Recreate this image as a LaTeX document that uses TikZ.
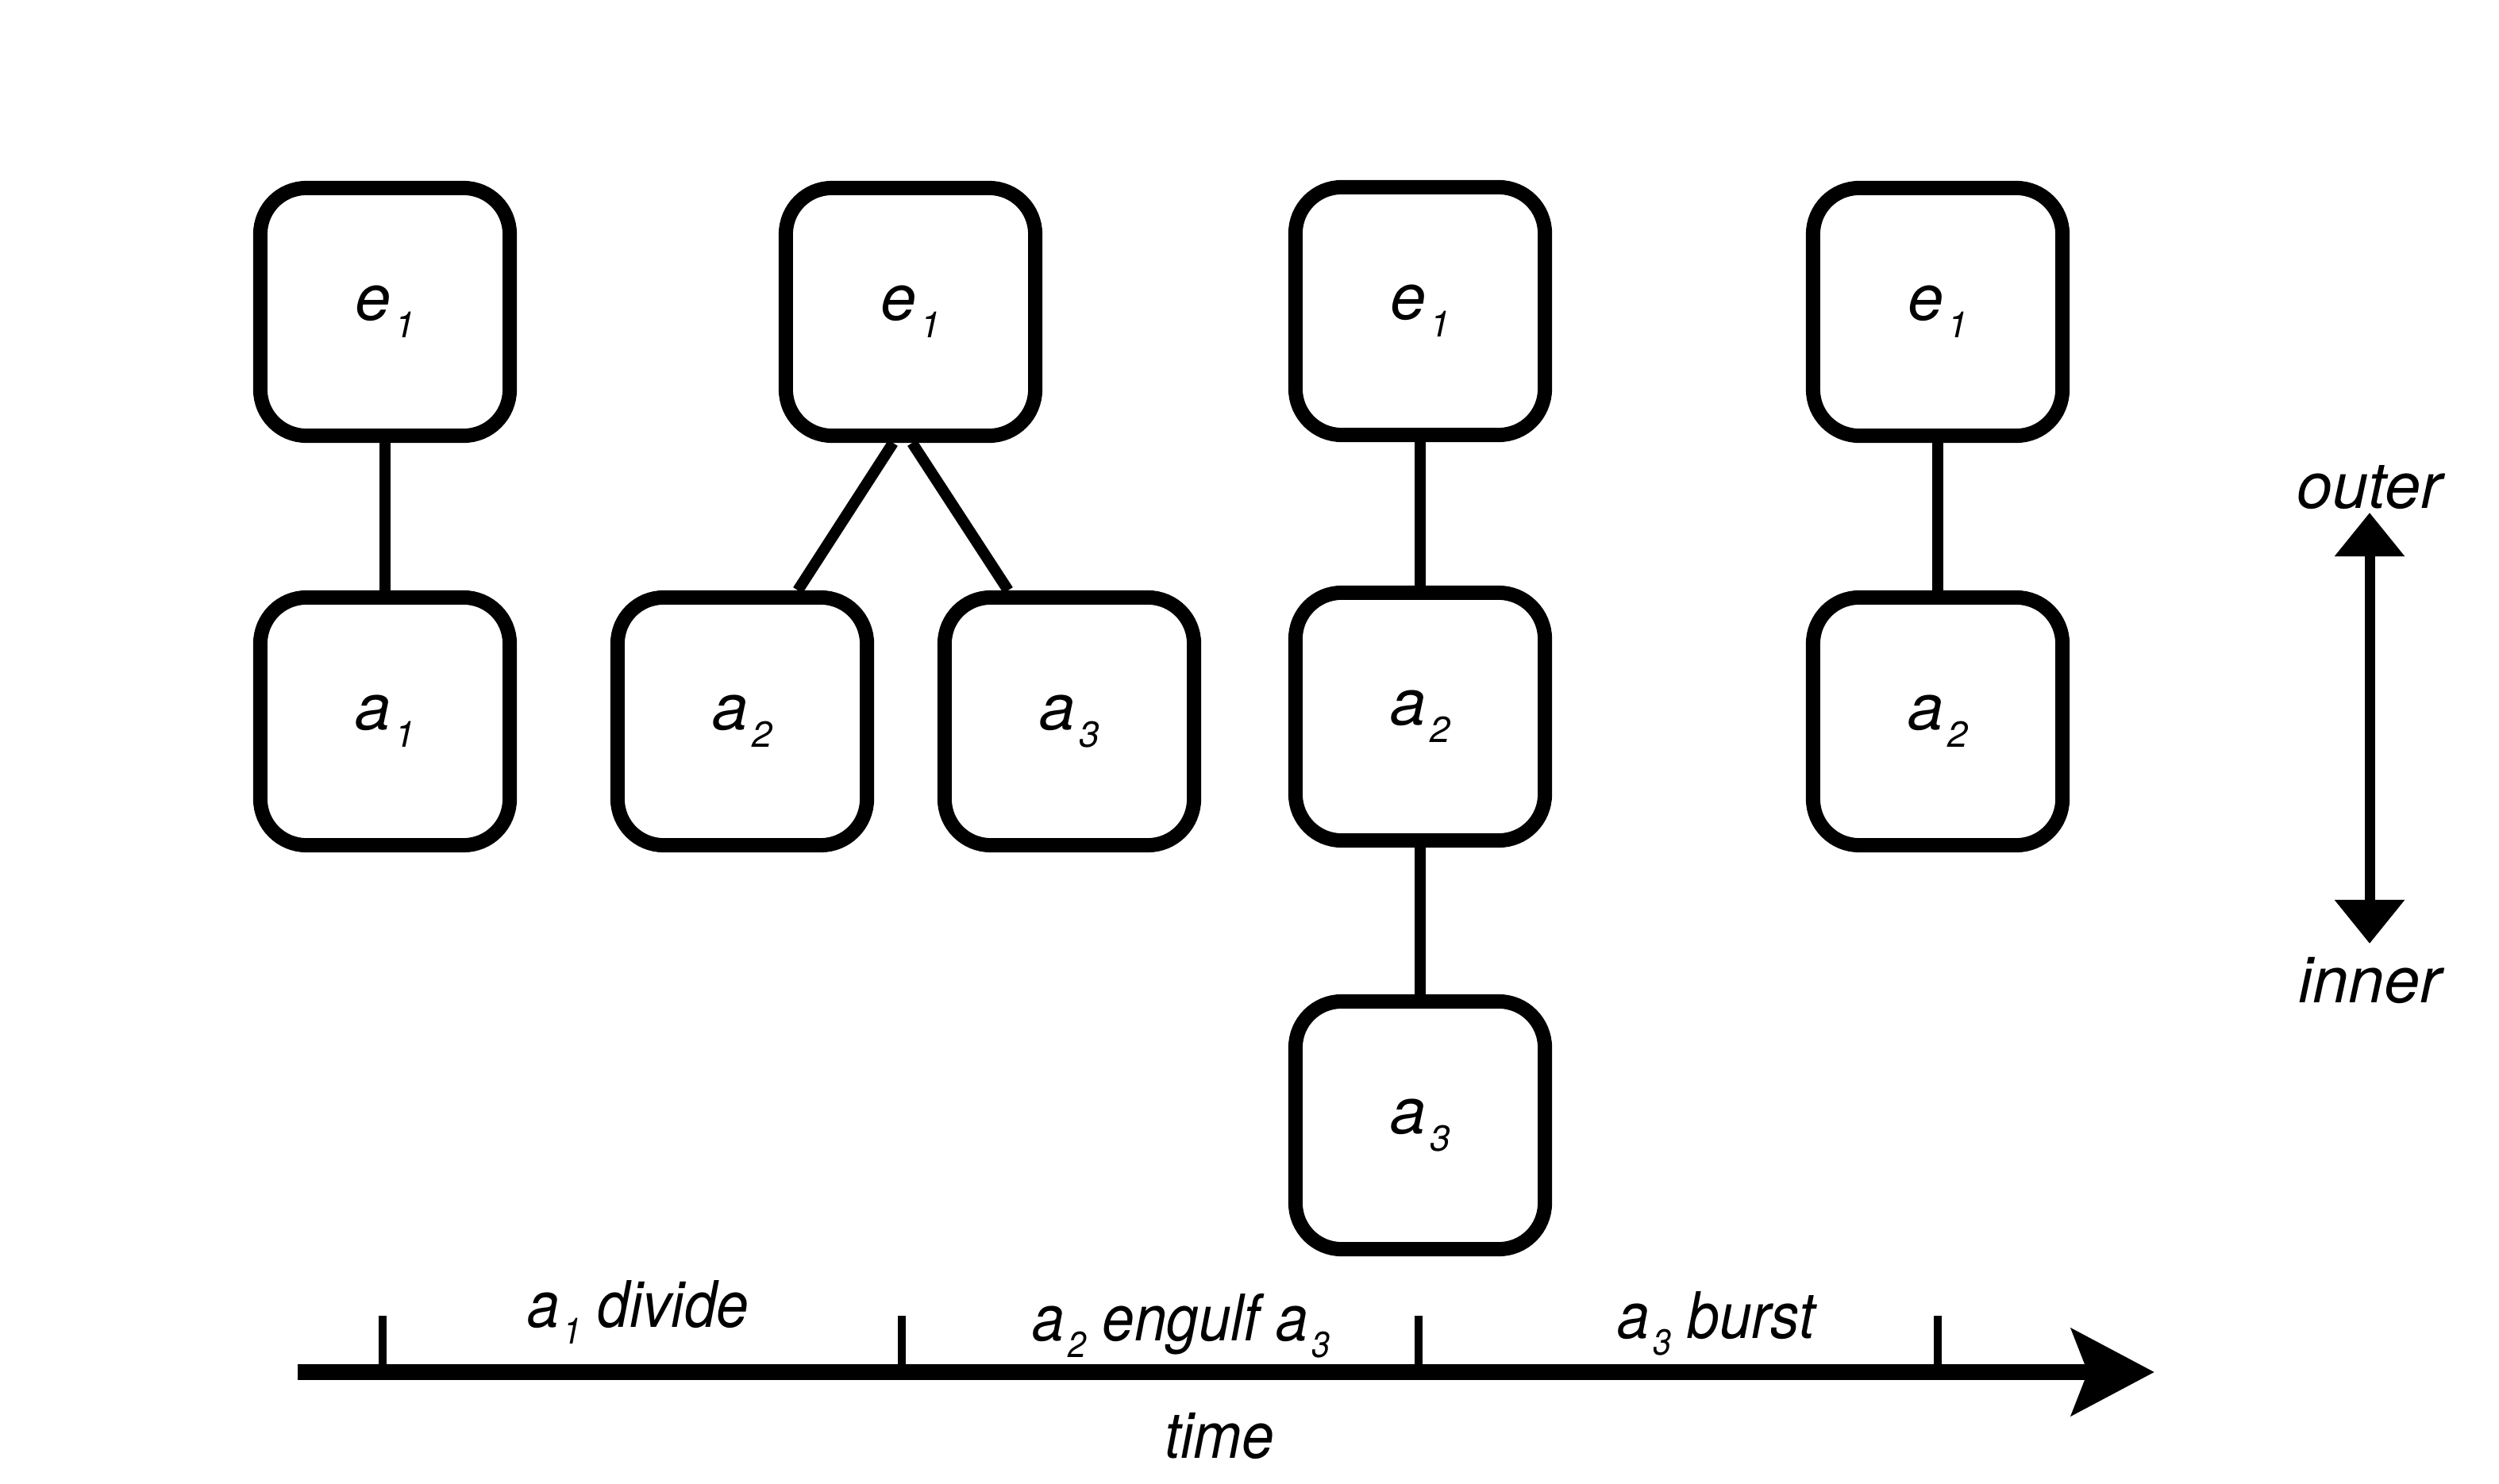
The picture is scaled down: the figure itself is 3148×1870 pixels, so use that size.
\documentclass[tikz,border=0pt]{standalone}
\usepackage{fontspec}
\setmainfont{TeX Gyre Heros}
\usetikzlibrary{arrows.meta}
\newcommand\lsub[1]{\kern0.06em\raisebox{-0.27em}{\fontsize{13}{13}\selectfont #1}}
\newcommand\cond[1]{\scalebox{0.9}[1]{#1}}
\begin{document}
\begin{tikzpicture}[x=0.01cm,y=-0.01cm,
  lbl/.style={font=\fontsize{23}{27}\selectfont\itshape, inner sep=0pt},
  box/.style={lbl, draw, line width=0.18cm, rounded corners=0.58cm,
    minimum width=3.14cm, minimum height=3.12cm},
  link/.style={line width=0.14cm},
  axis/.style={line width=0.2cm},
  tick/.style={line width=0.1cm}]
\useasboundingbox (0,0) rectangle (3148,1870);
% column 1
\node[box] (e1a) at (485,393) {e\lsub{1}};
\node[box] (a1a) at (485,909) {a\lsub{1}};
\draw[link] (e1a) -- (a1a);
% column 2
\node[box] (e1b) at (1147,393) {e\lsub{1}};
\node[box] (a2b) at (935,909) {a\lsub{2}};
\node[box] (a3b) at (1347,909) {a\lsub{3}};
\draw[link] ([xshift=-0.22cm]e1b.south) -- ([xshift=0.7cm]a2b.north);
\draw[link] ([xshift=0.02cm]e1b.south) -- ([xshift=-0.77cm]a3b.north);
% column 3
\node[box] (e1c) at (1789,392) {e\lsub{1}};
\node[box] (a2c) at (1789,903) {a\lsub{2}};
\node[box] (a3c) at (1789,1418) {a\lsub{3}};
\draw[link] (e1c) -- (a2c);
\draw[link] (a2c) -- (a3c);
% column 4
\node[box] (e1d) at (2441,393) {e\lsub{1}};
\node[box] (a2d) at (2441,909) {a\lsub{2}};
\draw[link] (e1d) -- (a2d);
% timeline
\coordinate (tl0) at (375,1729);
\coordinate (tl1) at (2714,1729);
\draw[axis, -{Stealth[length=1.04cm, width=1.08cm, inset=0.2cm]}] (tl0) -- (tl1);
\foreach \x/\n in {482/t1,1136/t2,1787/t3,2441/t4}{
  \coordinate (\n top) at (\x,1658);
  \coordinate (\n bot) at (\x,1729);
  \draw[tick] (\n top) -- (\n bot);
}
\node[lbl, anchor=base] (l1) at (804,1672) {\cond{a\lsub{1} divide}};
\node[lbl, anchor=base] (l2) at (1488,1689) {\cond{a\lsub{2} engulf a\lsub{3}}};
\node[lbl, anchor=base] (l3) at (2162,1686) {\cond{a\lsub{3} burst}};
\node[lbl, anchor=base] (time) at (1536,1837) {\cond{time}};
% outer/inner arrow
\coordinate (vt) at (2985,646);
\coordinate (vb) at (2985,1189);
\draw[line width=0.13cm, {Triangle[length=0.55cm,width=0.85cm]}-{Triangle[length=0.55cm,width=0.85cm]}] (vt) -- (vb);
\node[lbl, anchor=base] (outer) at (2985,640) {outer};
\node[lbl, anchor=base] (inner) at (2985,1263) {inner};
\end{tikzpicture}
\end{document}
